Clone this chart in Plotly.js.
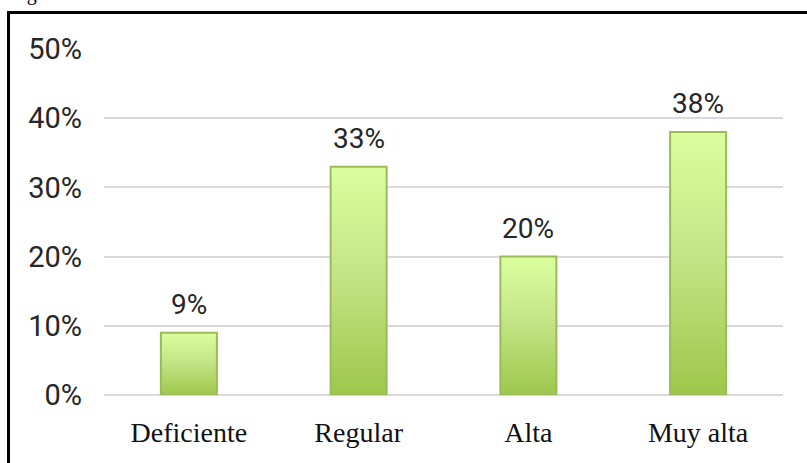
<!DOCTYPE html>
<html>
<head>
<meta charset="utf-8">
<script src="https://cdn.plot.ly/plotly-3.0.1.min.js"></script>
<style>
  html, body { margin: 0; padding: 0; background: #fff; overflow: hidden; }
  #chart { position: absolute; left: 0; top: 0; width: 807px; height: 463px; }
  #frame { position: absolute; left: 7px; top: 11px; width: 900px; height: 600px;
           border: 3px solid #000; pointer-events: none; }
  #caption { position: absolute; left: 10px; top: -17px; font-family: "Liberation Serif", serif;
             font-size: 20px; line-height: 20px; color: #000; white-space: nowrap; }
</style>
</head>
<body>
<div id="caption">Figura</div>
<div id="chart"></div>
<div id="frame"></div>
<script>
// Share of responses per rating level (percent)
const categories = ["Deficiente", "Regular", "Alta", "Muy alta"];
const percents = [9, 33, 20, 38];
const yTickValues = [0, 10, 20, 30, 40, 50];
const yTickLabels = ["0%", "10%", "20%", "30%", "40%", "50%"];

const labelFont = { family: "Roboto, 'Liberation Sans', sans-serif", size: 28, color: "#262626" };

const bars = {
  type: "bar",
  x: categories,
  y: percents,
  marker: { color: "#c3e584", line: { color: "#9bbb59", width: 2 } },
  hoverinfo: "skip"
};

const valueNotes = categories.map((c, i) => ({
  x: c, y: percents[i], xref: "x", yref: "y",
  text: percents[i] + "%", showarrow: false,
  yanchor: "bottom", yshift: 10, font: labelFont
}));

const layout = {
  width: 807, height: 463,
  margin: { l: 104, r: 24, t: 49, b: 68, pad: 0 },
  paper_bgcolor: "rgba(0,0,0,0)",
  plot_bgcolor: "rgba(0,0,0,0)",
  showlegend: false,
  bargap: 0.67,
  xaxis: {
    type: "category",
    showgrid: false, showline: false, zeroline: false,
    ticks: "", ticklabelstandoff: 18,
    tickfont: { family: "'Liberation Serif', serif", size: 28, color: "#111" }
  },
  yaxis: {
    range: [0, 50], fixedrange: true,
    tickvals: yTickValues, ticktext: yTickLabels,
    showgrid: true, gridcolor: "#d9d9d9", gridwidth: 2,
    zeroline: true, zerolinecolor: "#d9d9d9", zerolinewidth: 2,
    showline: false, ticks: "", ticklabelstandoff: 21,
    tickfont: { family: "Roboto, 'Liberation Sans', sans-serif", size: 29, color: "#262626" }
  },
  annotations: valueNotes
};

// Vertical light-to-dark green fill for each bar
function shadeBars(gd) {
  const svg = gd.querySelector(".main-svg");
  if (!svg) return;
  let defs = svg.querySelector("defs");
  if (!defs) { defs = document.createElementNS("http://www.w3.org/2000/svg", "defs"); svg.prepend(defs); }
  if (!svg.querySelector("#barShade")) {
    const ns = "http://www.w3.org/2000/svg";
    const grad = document.createElementNS(ns, "linearGradient");
    grad.setAttribute("id", "barShade");
    grad.setAttribute("x1", "0"); grad.setAttribute("y1", "0");
    grad.setAttribute("x2", "0"); grad.setAttribute("y2", "1");
    [["0", "#dbff9e"], ["0.5", "#c2e383"], ["1", "#9dc74b"]].forEach(([o, c]) => {
      const s = document.createElementNS(ns, "stop");
      s.setAttribute("offset", o); s.setAttribute("stop-color", c);
      grad.appendChild(s);
    });
    defs.appendChild(grad);
  }
  gd.querySelectorAll(".trace.bars .point path").forEach(p => {
    p.style.fill = "url(#barShade)";
  });
}

const gd = document.getElementById("chart");
Plotly.newPlot(gd, [bars], layout, { displayModeBar: false, staticPlot: true })
  .then(() => shadeBars(gd));
gd.on && gd.on("plotly_afterplot", () => shadeBars(gd));
</script>
</body>
</html>
